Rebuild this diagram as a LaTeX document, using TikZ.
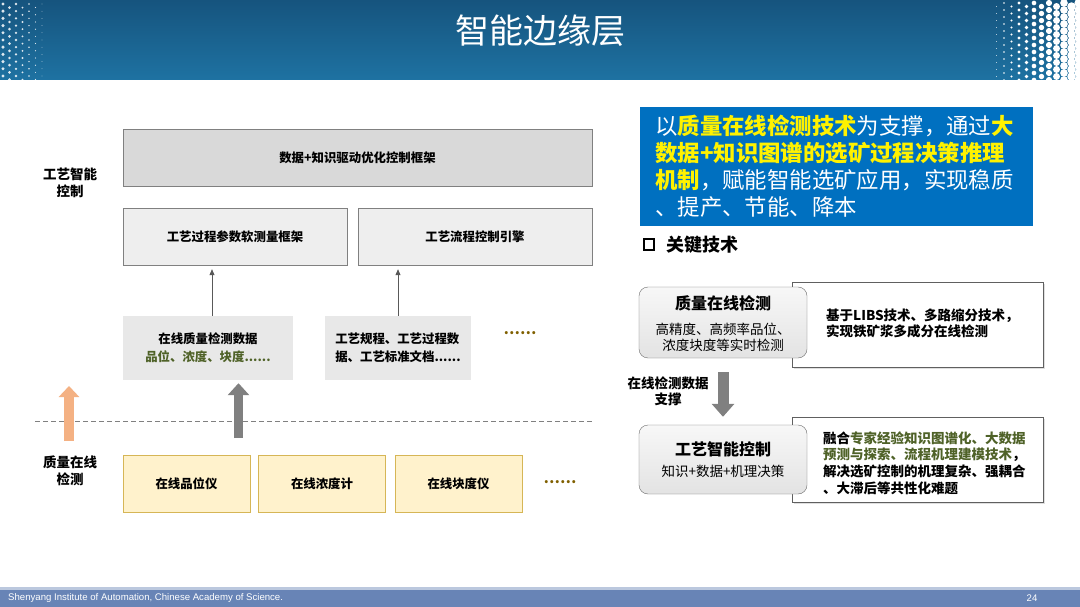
\documentclass[tikz,border=0pt]{standalone}
\usepackage{fontspec}
\setmainfont{Noto Sans CJK SC}
\newfontfamily\enfont{Liberation Sans}
\usetikzlibrary{arrows.meta,positioning,calc,shadows}
\definecolor{hdtop}{RGB}{22,84,126}
\definecolor{hdbot}{RGB}{30,114,162}
\definecolor{keyblue}{RGB}{0,112,192}
\definecolor{footblue}{RGB}{104,132,182}
\definecolor{ylwfill}{RGB}{255,242,204}
\definecolor{ylwdraw}{RGB}{214,182,86}
\definecolor{orgarrow}{RGB}{244,177,131}
\definecolor{grnText}{RGB}{79,98,40}
\definecolor{dotBrown}{RGB}{128,96,0}

\begin{document}
\begin{tikzpicture}[x=1pt,y=-1pt,
  every node/.style={inner sep=0pt,align=center},
  ctrlbox/.style={draw=gray,fill=gray!30,minimum height=57},
  modbox/.style={draw=gray,fill=gray!13,minimum height=57},
  databox/.style={fill=gray!18,minimum height=64},
  devbox/.style={draw=ylwdraw,fill=ylwfill,minimum width=127,minimum height=57},
  rndbox/.style={draw=gray!85!black,rounded corners=9,top color=gray!6,bottom color=gray!22,minimum width=168},
  descbox/.style={draw=gray!75!black,fill=white,minimum width=251,minimum height=85,
    drop shadow={shadow xshift=2pt,shadow yshift=-2pt,opacity=.25}},
  boxtxt/.style={font=\fontsize{12.4}{18}\selectfont\bfseries},
  sidelbl/.style={font=\fontsize{13.5}{16.5}\selectfont\bfseries},
  rtitle/.style={font=\fontsize{16}{18}\selectfont\bfseries},
  rtext/.style={font=\fontsize{13.5}{15.5}\selectfont},
  desctxt/.style={font=\fontsize{13.5}{16.7}\selectfont\bfseries,align=left,anchor=west},
  moredots/.style={font=\fontsize{14.5}{16}\selectfont\bfseries,text=dotBrown},
  thinarrow/.style={draw=gray!70!black,line width=.8pt,-{Triangle[width=5pt,length=6pt]}},
  blockarrow/.style={line width=#1,line cap=butt}
]
\useasboundingbox (0,0) rectangle (1080,607);
\fill[white] (0,0) rectangle (1080,607);

% header band
\shade[top color=hdtop,bottom color=hdbot] (0,0) rectangle (1080,80);
\begin{scope}
\clip (0,0) rectangle (1080,80);
% halftone dots, left edge
\foreach \i in {0,...,6}{
  \foreach \j in {0,...,10}{
    \pgfmathsetmacro\rr{1.7-0.22*\i}
    \pgfmathsetmacro\dx{3+\i*6.5}
    \pgfmathsetmacro\dy{4+\j*7.2+mod(\i,2)*3.6}
    \fill[white,opacity=.85] (\dx,\dy) circle (\rr);
  }
}
% halftone dots, right edge
\foreach \i in {0,...,11}{
  \foreach \j in {0,...,11}{
    \pgfmathsetmacro\rr{max(0.4,4.6-0.38*\i)}
    \pgfmathsetmacro\dx{1079-\i*7.5}
    \pgfmathsetmacro\dy{3+\j*7+mod(\i,2)*3.5}
    \fill[white] (\dx,\dy) circle (\rr);
  }
}
\end{scope}
\node[font=\fontsize{34}{40}\selectfont,text=white] (title) at (540,31) {智能边缘层};

% footer band
\fill[footblue!45] (0,587) rectangle (1080,590);
\fill[footblue] (0,590) rectangle (1080,607);
\node[anchor=west,font=\enfont\fontsize{9.6}{10}\selectfont,text=white] (inst) at (8,598.5)
  {Shenyang Institute of Automation, Chinese Academy of Science.};
\node[font=\enfont\fontsize{9.6}{10}\selectfont,text=white] (pageno) at (1032,598.5) {24};

% left: layered structure
\node[sidelbl] (lblctrl) at (70,183) {工艺智能\\控制};
\node[ctrlbox,boxtxt,minimum width=469] (optframe) at (357.5,157.5) {数据+知识驱动优化控制框架};
\node[modbox,boxtxt,minimum width=224] (softbox) at (235,236.5) {工艺过程参数软测量框架};
\node[modbox,boxtxt,minimum width=234] (flowbox) at (475,236.5) {工艺流程控制引擎};

\node[databox,boxtxt,minimum width=170] (qdata) at (208,348)
  {在线质量检测数据\\\textcolor{grnText}{品位、浓度、块度......}};
\node[databox,boxtxt,minimum width=146,align=left] (pdata) at (398,348)
  {工艺规程、工艺过程数\\据、工艺标准文档......};
\node[moredots] (dotsA) at (520,333) {……};

\coordinate (qtop) at ($(qdata.north)+(4,0)$);
\draw[thinarrow,shorten >=4pt] (qtop) -- (qtop |- softbox.south);
\draw[thinarrow,shorten >=4pt] (pdata.north) -- (pdata.north |- flowbox.south);

% separator
\draw[gray,line width=.9pt,dash pattern=on 5pt off 3pt] (35,421) -- (592,421);

\coordinate (obot) at (69,441);
\coordinate (otop) at (69,386);
\draw[blockarrow=10.5pt,orgarrow,-{Triangle[width=20pt,length=11pt]}] (obot) -- (otop);
\coordinate (gbot) at (238.5,438);
\draw[blockarrow=9.5pt,gray,-{Triangle[width=21pt,length=12pt]},shorten >=3pt] (gbot) -- (gbot |- qdata.south);

\node[sidelbl] (lbldet) at (70,471) {质量在线\\检测};
\node[devbox,boxtxt] (gradeDev) at (186.5,483.5) {在线品位仪};
\node[devbox,boxtxt] (densDev) at (322,483.5) {在线浓度计};
\node[devbox,boxtxt] (sizeDev) at (458.5,483.5) {在线块度仪};
\node[moredots] (dotsB) at (560,482) {……};

% right: key statement
\node[fill=keyblue,minimum width=393,minimum height=119] (keybox) at (836.5,166.5) {};
\node[anchor=west,align=left,text=white,font=\fontsize{22.4}{27}\selectfont] (keytxt) at (655,166.5)
  {以\textbf{\color{yellow}质量在线检测技术}为支撑，通过\textbf{\color{yellow}大}\\
   \textbf{\color{yellow}数据+知识图谱的选矿过程决策推理}\\
   \textbf{\color{yellow}机制}，赋能智能选矿应用，实现稳质\\
   、提产、节能、降本};
\node[draw,line width=2.2pt,minimum size=10.5] (keybullet) at (649,244.5) {};
\node[anchor=west,font=\fontsize{18}{20}\selectfont\bfseries] (keyhead) at (666,245) {关键技术};

% right: key technologies
\node[descbox] (libsbox) at (917.5,324.5) {};
\node[desctxt] (libstxt) at (826,323.5) {基于LIBS技术、多路缩分技术，\\实现铁矿浆多成分在线检测};
\node[descbox] (fusebox) at (917.5,459.5) {};
\node[desctxt] (fusetxt) at (823,463)
  {融合\textcolor{grnText}{专家经验知识图谱化、大数据}\\
   \textcolor{grnText}{预测与探索、流程机理建模技术}，\\
   解决选矿控制的机理复杂、强耦合\\
   、大滞后等共性化难题};

\node[rndbox,minimum height=71] (qbox) at (723,322.5) {};
\node[rtitle] (qtitle) at (723,303) {质量在线检测};
\node[rtext] (qdesc) at (723,337.5) {高精度、高频率品位、\\浓度块度等实时检测};
\node[rndbox,minimum height=69] (ctrlbox) at (723,459.5) {};
\node[rtitle] (ctitle) at (723,449) {工艺智能控制};
\node[rtext] (cdesc) at (723,471.5) {知识+数据+机理决策};

\draw[blockarrow=11pt,gray,-{Triangle[width=22pt,length=13pt]},shorten <=14pt,shorten >=8pt] (qbox.south) -- (ctrlbox.north);
\node[sidelbl] (lblsup) at (668,391.5) {在线检测数据\\支撑};
\end{tikzpicture}
\end{document}
